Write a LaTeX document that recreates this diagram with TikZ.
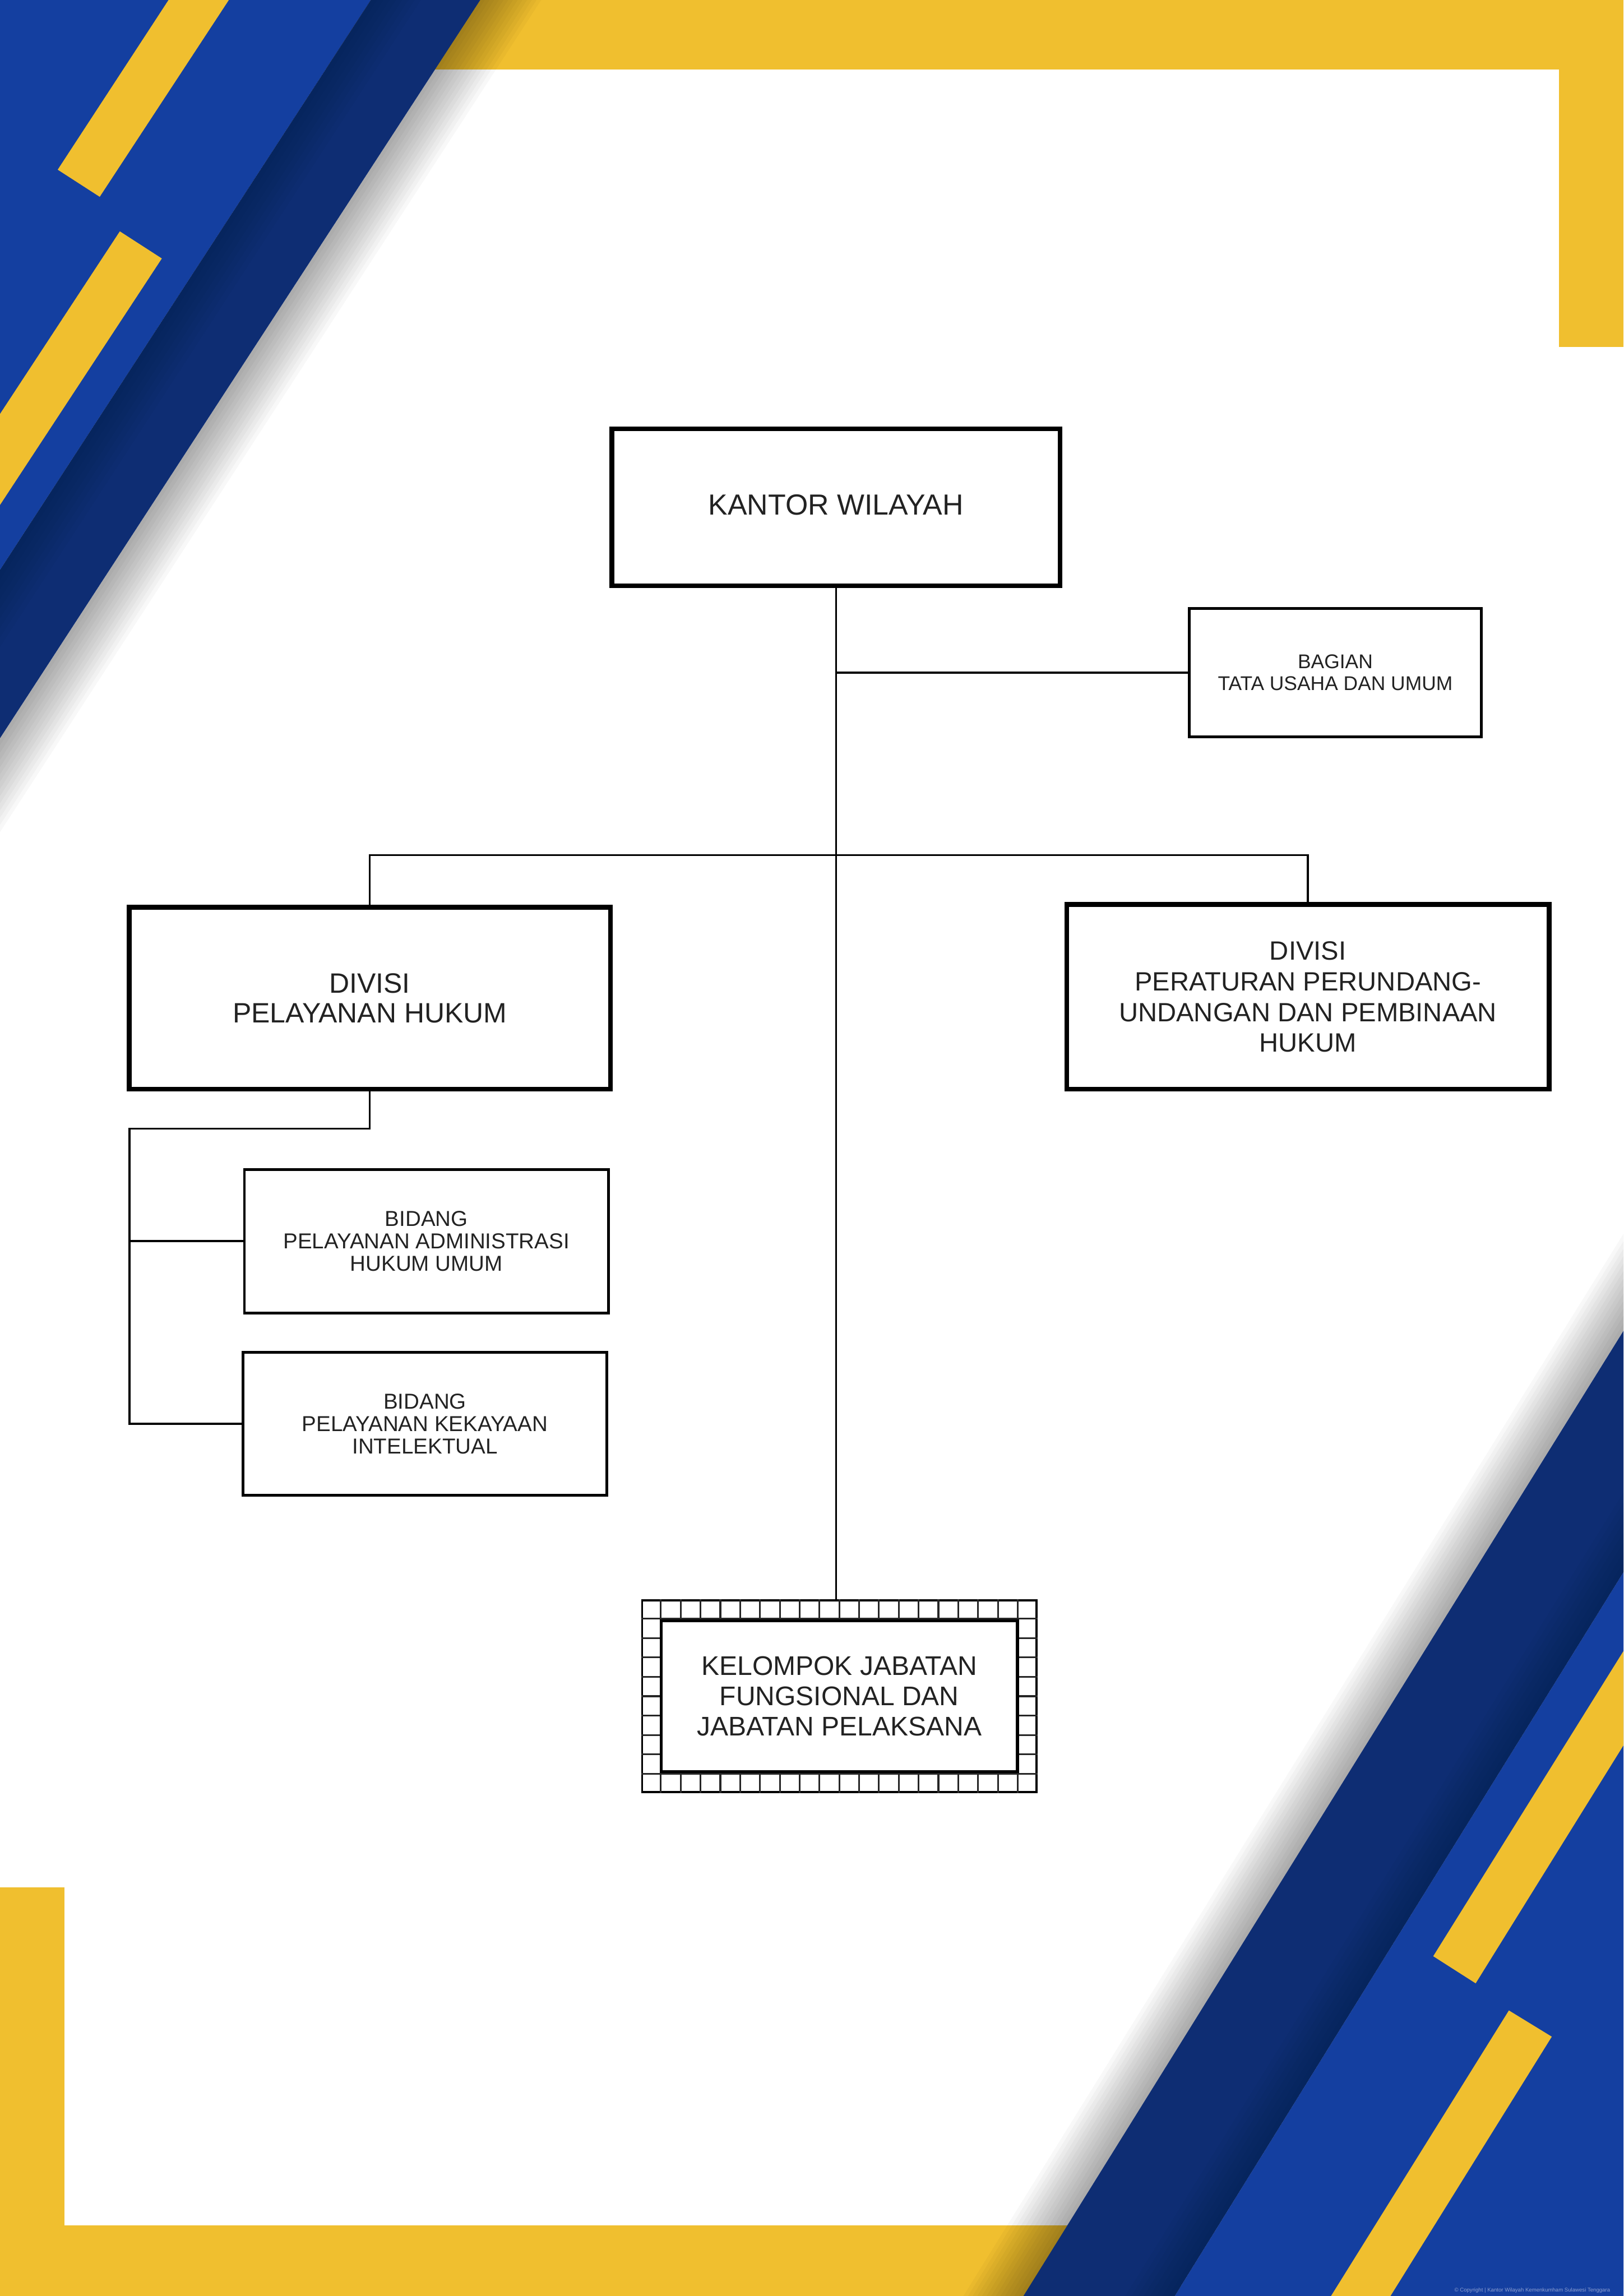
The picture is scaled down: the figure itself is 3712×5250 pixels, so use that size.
\documentclass[tikz,border=0pt]{standalone}
\usepackage{fontspec}
\setmainfont{Liberation Sans}
\usetikzlibrary{positioning, calc}
\definecolor{frameyellow}{HTML}{F0BF2F}
\definecolor{lightblue}{HTML}{143FA0}
\definecolor{darknavy}{HTML}{0E2D73}
\definecolor{textgray}{HTML}{222222}
\definecolor{copyblue}{HTML}{8C9FD2}

\begin{document}
\begin{tikzpicture}[x=0.01cm, y=-0.01cm,
      divbox/.style={rectangle, draw=black, line width=0.11cm, fill=white,
                     align=center, text=textgray, inner sep=0pt},
      unitbox/.style={rectangle, draw=black, line width=0.06cm, fill=white,
                      align=center, text=textgray, inner sep=0pt},
      conn/.style={line width=0.045cm, black},
      gridline/.style={line width=0.04cm, black!85},
      shadowstrip/.style={black, opacity=0.028},
      foldstrip/.style={black, opacity=0.02}
    ]
      \useasboundingbox (0,0) rectangle (3712,5250);
      \fill[white] (0,0) rectangle (3712,5250);

      \begin{scope}
        \clip (0,0) rectangle (3712,5250);
        \fill[frameyellow] (0,0) rectangle (3712,159);
        \fill[frameyellow] (3565,0) rectangle (3712,793);
        \fill[frameyellow] (0,4315) rectangle (148,5250);
        \fill[frameyellow] (0,5089) rectangle (2700,5250);

        \coordinate (tlA) at (1293,-300);
        \coordinate (tlB) at (-195,1988);
        \foreach \w in {9,18,...,117}
          \fill[shadowstrip] (tlA) -- (tlB) -- ([shift={(0.838*\w,0.545*\w)}]tlB)
            -- ([shift={(0.838*\w,0.545*\w)}]tlA) -- cycle;
        \coordinate (brA) at (3925,2700);
        \coordinate (brB) at (2185,5500);
        \foreach \w in {9,18,...,117}
          \fill[shadowstrip] (brA) -- (brB) -- ([shift={(-0.849*\w,-0.528*\w)}]brB)
            -- ([shift={(-0.849*\w,-0.528*\w)}]brA) -- cycle;

        \fill[lightblue] (0,0) -- (848,0) -- (0,1303) -- cycle;
        \fill[darknavy] (848,0) -- (1098,0) -- (0,1688) -- (0,1303) -- cycle;
        \coordinate (tlC) at (1043,-300);
        \coordinate (tlD) at (-195,1603);
        \foreach \w in {12,24,...,96}
          \fill[foldstrip] (tlC) -- (tlD) -- ([shift={(0.838*\w,0.545*\w)}]tlD)
            -- ([shift={(0.838*\w,0.545*\w)}]tlC) -- cycle;
        \fill[frameyellow] (418,-50) -- (556,-50) -- (228,450) -- (132,388) -- cycle;
        \fill[frameyellow] (274,529) -- (370,591) -- (-100,1307) -- (-100,1099) -- cycle;

        \fill[darknavy] (3712,3043) -- (3712,3595) -- (2686,5250) -- (2340,5250) -- cycle;
        \fill[lightblue] (3712,3595) -- (3712,5250) -- (2686,5250) -- cycle;
        \coordinate (brC) at (3895,3300);
        \coordinate (brD) at (2531,5500);
        \foreach \w in {12,24,...,96}
          \fill[foldstrip] (brC) -- (brD) -- ([shift={(-0.850*\w,-0.527*\w)}]brD)
            -- ([shift={(-0.850*\w,-0.527*\w)}]brC) -- cycle;
        \fill[frameyellow] (3800,3634) -- (3800,3849) -- (3374,4535) -- (3277,4473) -- cycle;
        \fill[frameyellow] (3450,4597) -- (3548,4657) -- (3117,5350) -- (2981,5350) -- cycle;
      \end{scope}

      \node[anchor=base east, text=copyblue, inner sep=0pt,
            font=\fontsize{3.5}{4}\selectfont] (copyright) at (3682,5240)
            {© Copyright | Kantor Wilayah Kemenkumham Sulawesi Tenggara};

      \node[divbox, minimum width=10.24cm, minimum height=3.59cm,
            font=\fontsize{18.9}{22}\selectfont] (kanwil) at (1911.5,1160)
            {\raisebox{0.13cm}{KANTOR WILAYAH}};
      \node[unitbox, minimum width=6.68cm, minimum height=2.94cm,
            font=\fontsize{12.9}{14.2}\selectfont] (bagian) at (3053,1538)
            {BAGIAN\\TATA USAHA DAN UMUM};
      \node[divbox, minimum width=11cm, minimum height=4.16cm,
            font=\fontsize{18.2}{19.6}\selectfont] (divph) at (845.5,2282.5)
            {DIVISI\\PELAYANAN HUKUM};
      \node[divbox, minimum width=11.02cm, minimum height=4.22cm,
            font=\fontsize{17.2}{19.9}\selectfont] (divpp) at (2990.5,2279.5)
            {DIVISI\\PERATURAN PERUNDANG-\\UNDANGAN DAN PEMBINAAN\\HUKUM};
      \node[unitbox, minimum width=8.32cm, minimum height=3.28cm,
            font=\fontsize{14.05}{14.5}\selectfont] (bidahu) at (975,2838)
            {BIDANG\\PELAYANAN ADMINISTRASI\\HUKUM UMUM};
      \node[unitbox, minimum width=8.31cm, minimum height=3.27cm,
            font=\fontsize{14.05}{14.5}\selectfont, below=0.84cm of bidahu.south, anchor=north,
            xshift=-0.035cm] (bidki)
            {BIDANG\\PELAYANAN KEKAYAAN\\INTELEKTUAL};

      \node[rectangle, draw=black, line width=0.05cm, fill=white, inner sep=0pt,
            minimum width=9.01cm, minimum height=4.38cm] (kjf) at (1919,3878.5) {};
      \foreach \i in {1,...,19}
        \draw[gridline] ($(kjf.north west)!\i/20!(kjf.north east)$)
          -- ($(kjf.south west)!\i/20!(kjf.south east)$);
      \foreach \j in {1,...,9}
        \draw[gridline] ($(kjf.north west)!\j/10!(kjf.south west)$)
          -- ($(kjf.north east)!\j/10!(kjf.south east)$);
      \node[rectangle, draw=black, line width=0.07cm, fill=white, inner sep=0pt,
            align=center, text=textgray, minimum width=8.14cm, minimum height=3.44cm,
            font=\fontsize{17.5}{19.8}\selectfont] (kjftext) at (kjf.center)
            {KELOMPOK JABATAN\\FUNGSIONAL DAN\\JABATAN PELAKSANA};

      \coordinate (bus) at (1911.5,1955);
      \coordinate (spine) at (296,2581);
      \draw[conn] (kanwil.south) -- (kanwil.south |- kjf.north);
      \draw[conn] (kanwil.south |- bagian.west) -- (bagian.west);
      \draw[conn] (divph.north) |- (bus -| divpp.north) -- (divpp.north);
      \draw[conn] (divph.south) |- (spine) |- (bidki.west);
      \draw[conn] (spine |- bidahu.west) -- (bidahu.west);
    \end{tikzpicture}
\end{document}
